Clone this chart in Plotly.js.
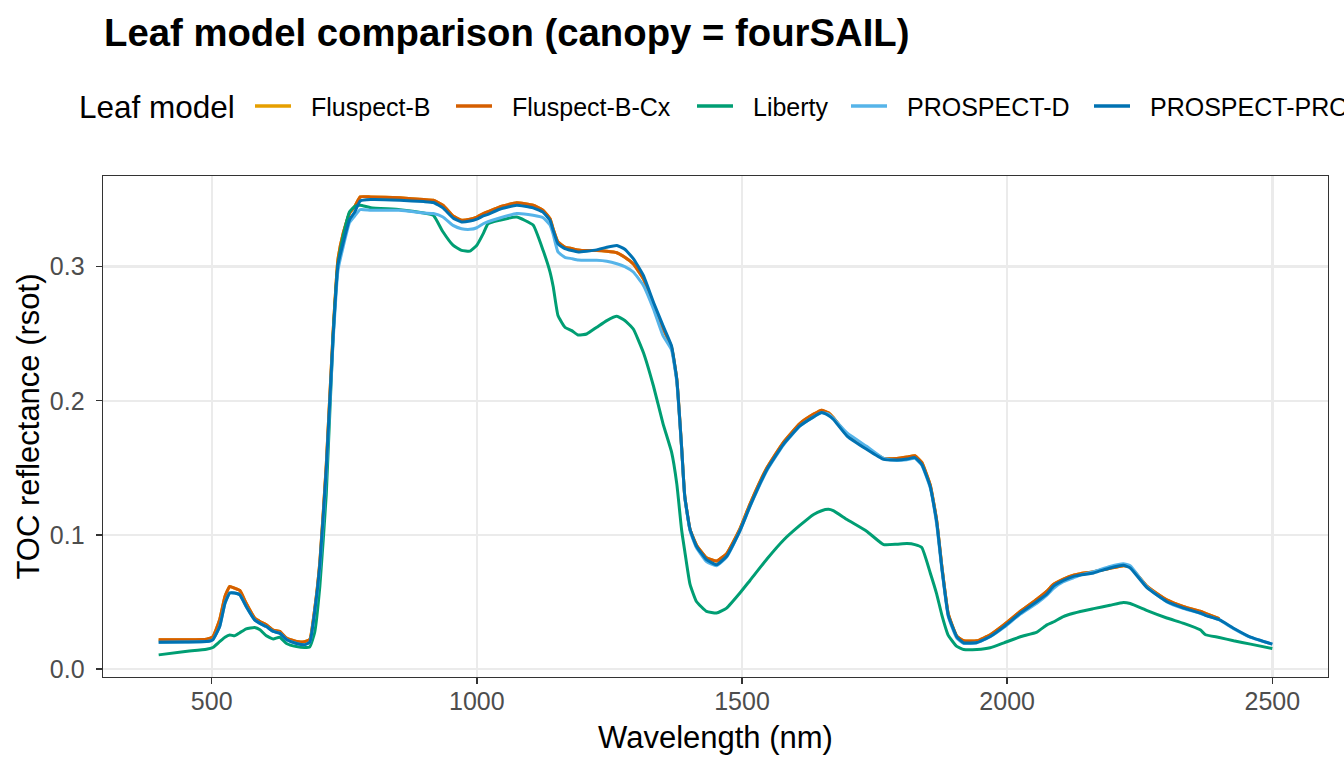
<!DOCTYPE html>
<html>
<head>
<meta charset="utf-8">
<script src="https://cdn.plot.ly/plotly-3.0.1.min.js"></script>
<style>html,body{margin:0;padding:0;background:#fff;overflow:hidden;}#chart{width:1344px;height:768px;}</style>
</head>
<body>
<div id="chart"></div>
<script>
// Wavelength (nm)
const wavelength = [
  400, 450, 490, 502, 515, 525, 534, 543, 553, 565,
  581, 591, 603, 616, 628, 641, 660, 675, 685, 694,
  704, 716, 729, 738, 748, 760, 770, 780, 800, 855,
  900, 918, 936, 955, 971, 987, 1000, 1012, 1021, 1043,
  1075, 1106, 1125, 1138, 1144, 1153, 1166, 1179, 1191, 1207,
  1226, 1245, 1264, 1279, 1295, 1314, 1333, 1351, 1367, 1377,
  1386, 1392, 1402, 1414, 1433, 1452, 1471, 1496, 1515, 1547,
  1578, 1609, 1635, 1650, 1663, 1672, 1698, 1735, 1767, 1792,
  1811, 1826, 1839, 1855, 1867, 1877, 1889, 1905, 1918, 1943,
  1968, 1994, 2025, 2056, 2075, 2087, 2106, 2125, 2138, 2163,
  2194, 2219, 2232, 2264, 2301, 2333, 2364, 2374, 2400, 2427,
  2459, 2500
];

// TOC reflectance per leaf model (Fluspect models stop at 2400 nm)
const fluspectB = [
  0.0217, 0.0218, 0.0222, 0.0240, 0.0367, 0.0540, 0.0616, 0.0603, 0.0586, 0.0490,
  0.0380, 0.0354, 0.0330, 0.0290, 0.0280, 0.0230, 0.0204, 0.0204, 0.0220, 0.0440,
  0.0800, 0.152, 0.252, 0.305, 0.325, 0.340, 0.345, 0.352, 0.352, 0.3513,
  0.3500, 0.3495, 0.3458, 0.3378, 0.3346, 0.3353, 0.3370, 0.3396, 0.3410, 0.3446,
  0.3476, 0.3458, 0.3420, 0.3358, 0.3280, 0.3184, 0.3146, 0.3135, 0.3125, 0.3120,
  0.3120, 0.3115, 0.3104, 0.3070, 0.3020, 0.2910, 0.2722, 0.2540, 0.2400, 0.2160,
  0.1660, 0.1290, 0.1040, 0.0925, 0.0830, 0.0805, 0.0860, 0.1045, 0.1230, 0.1500,
  0.1690, 0.1830, 0.1900, 0.1930, 0.1910, 0.1875, 0.1745, 0.1645, 0.1570, 0.1570,
  0.1580, 0.1590, 0.1540, 0.1370, 0.1110, 0.0760, 0.0410, 0.0245, 0.0210, 0.0210,
  0.0255, 0.0330, 0.0430, 0.0520, 0.0580, 0.0630, 0.0670, 0.0700, 0.0710, 0.0725,
  0.0750, 0.0770, 0.0760, 0.0615, 0.0515, 0.0465, 0.0430, 0.0415, 0.0375
];
const fluspectBCx = [
  0.0217, 0.0218, 0.0222, 0.0240, 0.0367, 0.0540, 0.0616, 0.0603, 0.0586, 0.0490,
  0.0380, 0.0354, 0.0330, 0.0290, 0.0280, 0.0230, 0.0204, 0.0204, 0.0220, 0.0440,
  0.0800, 0.152, 0.252, 0.305, 0.325, 0.340, 0.345, 0.352, 0.352, 0.3513,
  0.3500, 0.3495, 0.3458, 0.3378, 0.3346, 0.3353, 0.3370, 0.3396, 0.3410, 0.3446,
  0.3476, 0.3458, 0.3420, 0.3358, 0.3280, 0.3184, 0.3146, 0.3135, 0.3125, 0.3120,
  0.3120, 0.3115, 0.3104, 0.3070, 0.3020, 0.2910, 0.2722, 0.2540, 0.2400, 0.2160,
  0.1660, 0.1290, 0.1040, 0.0925, 0.0830, 0.0805, 0.0860, 0.1045, 0.1230, 0.1500,
  0.1690, 0.1830, 0.1900, 0.1930, 0.1910, 0.1875, 0.1745, 0.1645, 0.1570, 0.1570,
  0.1580, 0.1590, 0.1540, 0.1370, 0.1110, 0.0760, 0.0410, 0.0245, 0.0210, 0.0210,
  0.0255, 0.0330, 0.0430, 0.0520, 0.0580, 0.0630, 0.0670, 0.0700, 0.0710, 0.0725,
  0.0750, 0.0770, 0.0760, 0.0615, 0.0515, 0.0465, 0.0430, 0.0415, 0.0375
];
const liberty = [
  0.0105, 0.0130, 0.0147, 0.0160, 0.0204, 0.0237, 0.0254, 0.0247, 0.0270, 0.0299,
  0.0309, 0.0292, 0.0247, 0.0224, 0.0237, 0.0190, 0.0167, 0.0160, 0.0165, 0.0270,
  0.0620, 0.130, 0.2485, 0.301, 0.323, 0.341, 0.345, 0.3458, 0.344, 0.3425,
  0.3400, 0.3383, 0.3260, 0.3160, 0.3121, 0.3116, 0.3160, 0.3246, 0.3320, 0.3346,
  0.3370, 0.3310, 0.3120, 0.2960, 0.2850, 0.2635, 0.2548, 0.2523, 0.2490, 0.2498,
  0.2548, 0.2598, 0.2630, 0.2598, 0.2535, 0.2360, 0.2110, 0.1830, 0.1620, 0.1380,
  0.1040, 0.0880, 0.0630, 0.0503, 0.0429, 0.0417, 0.0454, 0.0566, 0.0660, 0.0820,
  0.0960, 0.1070, 0.1152, 0.1180, 0.1190, 0.1180, 0.1114, 0.1027, 0.0927, 0.0930,
  0.0935, 0.0927, 0.0905, 0.0716, 0.0560, 0.0400, 0.0250, 0.0168, 0.0145, 0.0145,
  0.0158, 0.0195, 0.0240, 0.0275, 0.0329, 0.0350, 0.0391, 0.0415, 0.0429, 0.0450,
  0.0475, 0.0496, 0.0488, 0.0435, 0.0380, 0.0340, 0.0292, 0.0255, 0.0235, 0.0210,
  0.0185, 0.0152
];
const prospectD = [
  0.0200, 0.0201, 0.0204, 0.0217, 0.0316, 0.0490, 0.0566, 0.0566, 0.0553, 0.0466,
  0.0366, 0.0340, 0.0316, 0.0280, 0.0267, 0.0220, 0.0190, 0.0180, 0.0200, 0.0420,
  0.0760, 0.146, 0.245, 0.297, 0.315, 0.333, 0.338, 0.3425, 0.342, 0.342,
  0.3400, 0.3396, 0.3370, 0.3308, 0.3283, 0.3278, 0.3290, 0.3320, 0.3335, 0.3363,
  0.3396, 0.3383, 0.3365, 0.3310, 0.3240, 0.3110, 0.3070, 0.3060, 0.3050, 0.3047,
  0.3047, 0.3040, 0.3022, 0.3000, 0.2960, 0.2860, 0.2685, 0.2485, 0.2380, 0.2140,
  0.1650, 0.1280, 0.1030, 0.0905, 0.0800, 0.0770, 0.0835, 0.1030, 0.1210, 0.1480,
  0.1670, 0.1810, 0.1880, 0.1910, 0.1900, 0.1870, 0.1760, 0.1660, 0.1570, 0.1555,
  0.1560, 0.1570, 0.1520, 0.1350, 0.1080, 0.0740, 0.0390, 0.0230, 0.0190, 0.0195,
  0.0240, 0.0310, 0.0410, 0.0490, 0.0550, 0.0600, 0.0650, 0.0680, 0.0700, 0.0725,
  0.0765, 0.0785, 0.0770, 0.0610, 0.0500, 0.0450, 0.0415, 0.0400, 0.0365, 0.0300,
  0.0235, 0.0185
];
const prospectPro = [
  0.0200, 0.0201, 0.0204, 0.0217, 0.0316, 0.0490, 0.0566, 0.0566, 0.0553, 0.0466,
  0.0366, 0.0340, 0.0316, 0.0280, 0.0267, 0.0220, 0.0190, 0.0180, 0.0200, 0.0420,
  0.0780, 0.149, 0.2485, 0.301, 0.318, 0.335, 0.341, 0.349, 0.350, 0.3495,
  0.3485, 0.3478, 0.3438, 0.3363, 0.3333, 0.3340, 0.3355, 0.3378, 0.3390, 0.3428,
  0.3458, 0.3438, 0.3405, 0.3345, 0.3270, 0.3170, 0.3135, 0.3120, 0.3110, 0.3115,
  0.3125, 0.3145, 0.3158, 0.3130, 0.3060, 0.2934, 0.2735, 0.2560, 0.2410, 0.2160,
  0.1660, 0.1290, 0.1040, 0.0915, 0.0815, 0.0778, 0.0840, 0.1030, 0.1214, 0.1488,
  0.1675, 0.1812, 0.1880, 0.1912, 0.1890, 0.1862, 0.1737, 0.1638, 0.1563, 0.1558,
  0.1565, 0.1576, 0.1526, 0.1360, 0.1100, 0.0750, 0.0400, 0.0240, 0.0195, 0.0197,
  0.0242, 0.0316, 0.0417, 0.0503, 0.0560, 0.0616, 0.0660, 0.0690, 0.0700, 0.0716,
  0.0753, 0.0773, 0.0753, 0.0604, 0.0503, 0.0454, 0.0417, 0.0400, 0.0367, 0.0304,
  0.0237, 0.0185
];

const modelNames = ['Fluspect-B', 'Fluspect-B-Cx', 'Liberty', 'PROSPECT-D', 'PROSPECT-PRO'];
const modelValues = [fluspectB, fluspectBCx, liberty, prospectD, prospectPro];
const modelColors = ['#E69F00', '#D55E00', '#009E73', '#56B4E9', '#0072B2'];
const legendTitle = 'Leaf model';
const xTicks = [500, 1000, 1500, 2000, 2500];
const yTicks = [0, 0.1, 0.2, 0.3];
const yTickText = ['0.0', '0.1', '0.2', '0.3'];

const FONT = 'Liberation Sans, Arial, sans-serif';
const W = 1344, H = 768;
const M = {l: 103, r: 16, t: 176, b: 91};
const plotW = W - M.l - M.r, plotH = H - M.t - M.b;
// pixel -> paper helpers for the legend key (layout only)
const px = v => (v - M.l) / plotW;
const py = v => (H - M.b - v) / plotH;

const traces = modelNames.map((name, i) => ({
  type: 'scatter',
  mode: 'lines',
  name: name,
  x: wavelength.slice(0, modelValues[i].length),
  y: modelValues[i],
  line: {color: modelColors[i], width: 3, shape: 'spline', smoothing: 0.4},
  showlegend: false,
  hoverinfo: 'x+y+name'
}));

// Legend key layout (pixel positions of each entry's text start)
const legendTextX = [311, 512, 753, 907, 1150];
const legendY = 106;
const shapes = [];
const annotations = [{
  text: legendTitle, xref: 'paper', yref: 'paper', x: px(77), y: py(legendY + 1),
  xanchor: 'left', yanchor: 'middle', showarrow: false,
  font: {family: FONT, size: 31.5, color: '#000000'}
}];
modelNames.forEach((name, i) => {
  const tx = legendTextX[i];
  shapes.push({
    type: 'line', xref: 'paper', yref: 'paper',
    x0: px(tx - 56), x1: px(tx - 20), y0: py(legendY), y1: py(legendY),
    line: {color: modelColors[i], width: 3.5}
  });
  annotations.push({
    text: name, xref: 'paper', yref: 'paper', x: px(tx - 2), y: py(legendY + 1),
    xanchor: 'left', yanchor: 'middle', showarrow: false,
    font: {family: FONT, size: 25, color: '#000000'}
  });
});

const axisCommon = {
  showgrid: true,
  gridcolor: '#EBEBEB',
  gridwidth: 2.4,
  zeroline: false,
  showline: true,
  mirror: true,
  linecolor: '#333333',
  linewidth: 1.4,
  ticks: 'outside',
  ticklen: 6,
  tickwidth: 1.4,
  tickcolor: '#333333',
  tickfont: {family: FONT, size: 25, color: '#4D4D4D'},
  automargin: false
};

const layout = {
  width: W,
  height: H,
  paper_bgcolor: '#FFFFFF',
  plot_bgcolor: '#FFFFFF',
  font: {family: FONT, color: '#000000'},
  margin: {l: M.l, r: M.r, t: M.t, b: M.b, pad: 0},
  showlegend: false,
  title: {
    text: 'Leaf model comparison (canopy = fourSAIL)',
    font: {family: FONT, size: 38.3, weight: 700, color: '#000000'},
    xref: 'container', x: 104 / W, xanchor: 'left',
    yref: 'container', y: 1 - 33 / H, yanchor: 'middle'
  },
  xaxis: Object.assign({}, axisCommon, {
    range: [295, 2605],
    tickvals: xTicks,
    ticktext: xTicks.map(String),
    ticklabelstandoff: -4,
    title: {text: 'Wavelength (nm)', font: {family: FONT, size: 31, color: '#000000'}, standoff: 12}
  }),
  yaxis: Object.assign({}, axisCommon, {
    range: [-0.006, 0.3676],
    tickvals: yTicks,
    ticktext: yTickText,
    ticklabelstandoff: 6,
    title: {text: 'TOC reflectance (rsot)', font: {family: FONT, size: 31, color: '#000000'}, standoff: 1}
  }),
  shapes: shapes,
  annotations: annotations
};

Plotly.newPlot('chart', traces, layout, {displayModeBar: false, staticPlot: true});
</script>
</body>
</html>
